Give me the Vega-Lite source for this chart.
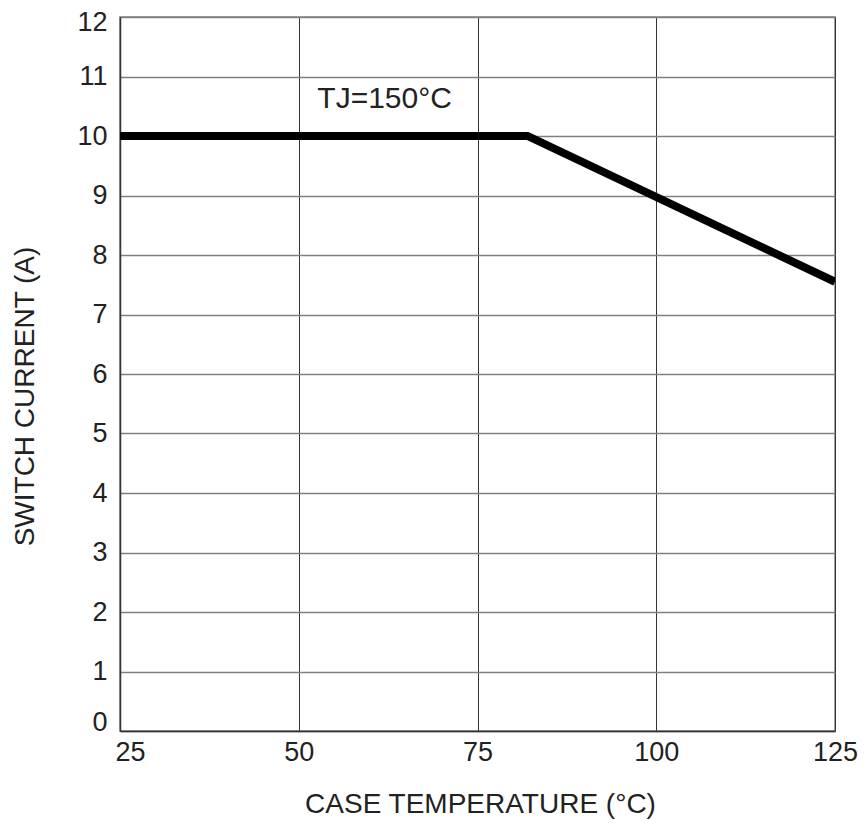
{
  "$schema": "https://vega.github.io/schema/vega-lite/v6.json",
  "autosize": "none",
  "width": 715,
  "height": 714,
  "padding": {"left": 120, "top": 17, "right": 31, "bottom": 94},
  "background": "white",
  "config": {
    "view": {"stroke": "#808080", "strokeWidth": 1.5},
    "font": "Liberation Sans"
  },
  "datasets": {
    "curve": [
      {"temp": 25, "current": 10},
      {"temp": 82, "current": 10},
      {"temp": 125, "current": 7.55}
    ],
    "note": [
      {"temp": 52.6, "current": 10.47, "label": "TJ=150°C"}
    ]
  },
  "layer": [
    {
      "data": {"name": "curve"},
      "mark": {"type": "line", "color": "black", "strokeWidth": 8, "strokeCap": "butt", "strokeJoin": "miter", "clip": true},
      "encoding": {
        "x": {
          "field": "temp", "type": "quantitative",
          "scale": {"domain": [25, 125], "nice": false, "zero": false},
          "axis": {
            "values": [25, 50, 75, 100, 125],
            "format": "d",
            "labelFlush": false,
            "title": "CASE TEMPERATURE (°C)",
            "titleFont": "Liberation Sans", "titleFontSize": 28, "titleFontWeight": "normal", "titleColor": "#222",
            "titleX": 360, "titleY": 73, "titleBaseline": "middle", "titleAlign": "center",
            "labelFont": "Liberation Sans", "labelFontSize": 27, "labelColor": "#222",
            "labelPadding": 8, "ticks": false,
            "labelOffset": {"expr": "datum.value == 25 ? 10 : 0"},
            "domainColor": "#333", "domainWidth": 1.5,
            "grid": true, "gridColor": "#333", "gridWidth": 1
          }
        },
        "y": {
          "field": "current", "type": "quantitative",
          "scale": {"domain": [0, 12], "nice": false},
          "axis": {
            "values": [0, 1, 2, 3, 4, 5, 6, 7, 8, 9, 10, 11, 12],
            "format": "d",
            "labelFlush": false,
            "title": "SWITCH CURRENT (A)",
            "titleFont": "Liberation Sans", "titleFontSize": 28, "titleFontWeight": "normal", "titleColor": "#222",
            "titleX": -95, "titleY": 379, "titleBaseline": "middle", "titleAlign": "center", "titleAngle": -90,
            "labelFont": "Liberation Sans", "labelFontSize": 27, "labelColor": "#222",
            "labelPadding": 13, "ticks": false,
            "labelOffset": {"expr": "datum.value == 0 ? -9 : (datum.value == 12 ? 5 : 0)"},
            "domainColor": "#333", "domainWidth": 1.5,
            "grid": true, "gridColor": "#808080", "gridWidth": 1.5
          }
        }
      }
    },
    {
      "data": {"name": "note"},
      "mark": {"type": "text", "align": "left", "baseline": "alphabetic", "fontSize": 30, "font": "Liberation Sans", "color": "#222"},
      "encoding": {
        "x": {"field": "temp", "type": "quantitative"},
        "y": {"field": "current", "type": "quantitative"},
        "text": {"field": "label"}
      }
    }
  ]
}
